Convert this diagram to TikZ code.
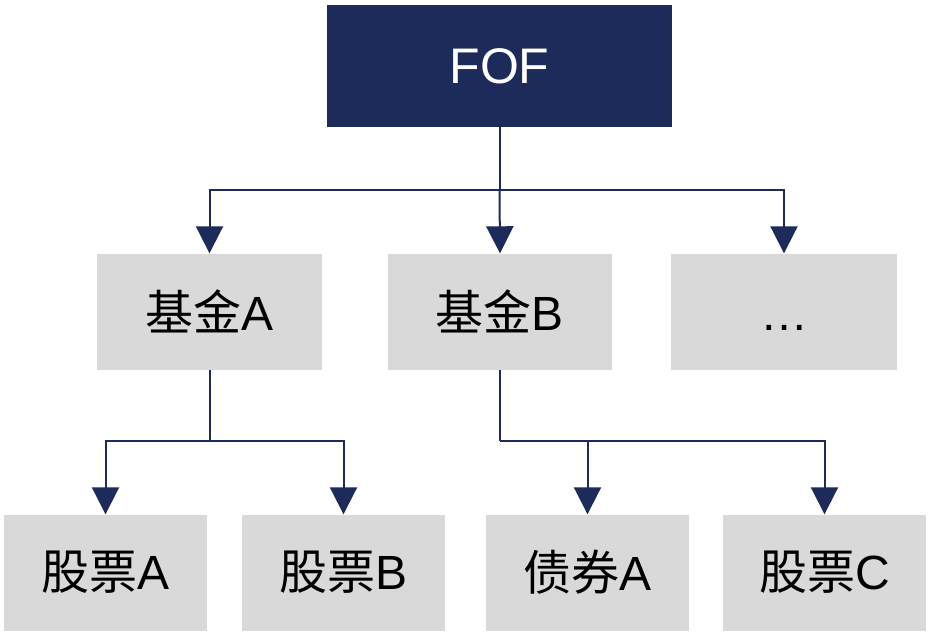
\documentclass[tikz,border=0pt]{standalone}
\usepackage{fontspec}
\setmainfont{Liberation Sans}
\newfontfamily\cjk{Noto Sans CJK SC}
\usetikzlibrary{arrows.meta}
\definecolor{navy}{HTML}{1C2B59}
\definecolor{boxgray}{HTML}{D9D9D9}
\begin{document}
\begin{tikzpicture}[x=1pt,y=-1pt,
  topbox/.style={fill=navy,draw=none,minimum width=345pt,minimum height=122pt,text=white,font=\fontsize{50}{54}\selectfont,inner sep=0pt},
  gbox/.style={fill=boxgray,draw=none,minimum height=116pt,inner sep=0pt,font=\fontsize{48}{52}\selectfont},
  conn/.style={draw=navy,line width=2pt},
  arr/.style={conn,-{Triangle[width=27pt,length=27pt]}}]
\useasboundingbox (0,0) rectangle (930,637);
\node[topbox] (fof) at (499.5,66) {FOF};
\node[gbox,minimum width=225pt] (fa) at (209.5,311.5) {{\cjk 基金}A};
\node[gbox,minimum width=224pt] (fb) at (500,311.5) {{\cjk 基金}B};
\node[gbox,minimum width=226pt] (fc) at (784,311.5) {\vphantom{{\cjk 基}A}…};
\node[gbox,minimum width=203pt] (sa) at (105.5,572.5) {{\cjk 股票}A};
\node[gbox,minimum width=203pt] (sb) at (343.5,572.5) {{\cjk 股票}B};
\node[gbox,minimum width=203pt] (ba) at (587.5,572.5) {{\cjk 债券}A};
\node[gbox,minimum width=203pt] (sc) at (824.5,572.5) {{\cjk 股票}C};
\coordinate (j1) at (499.5,190);
\coordinate (j2) at (209.5,441);
\coordinate (j3) at (500,441);
\draw[conn] (fof.south) -- (j1);
\draw[arr] (j1) -| (fa.north);
\draw[arr] (j1) -- (fb.north);
\draw[arr] (j1) -| (fc.north);
\draw[conn] (fa.south) -- (j2);
\draw[arr] (j2) -| (sa.north);
\draw[arr] (j2) -| (sb.north);
\draw[conn] (fb.south) -- (j3);
\draw[arr] (j3) -| (ba.north);
\draw[arr] (j3) -| (sc.north);
\end{tikzpicture}
\end{document}
